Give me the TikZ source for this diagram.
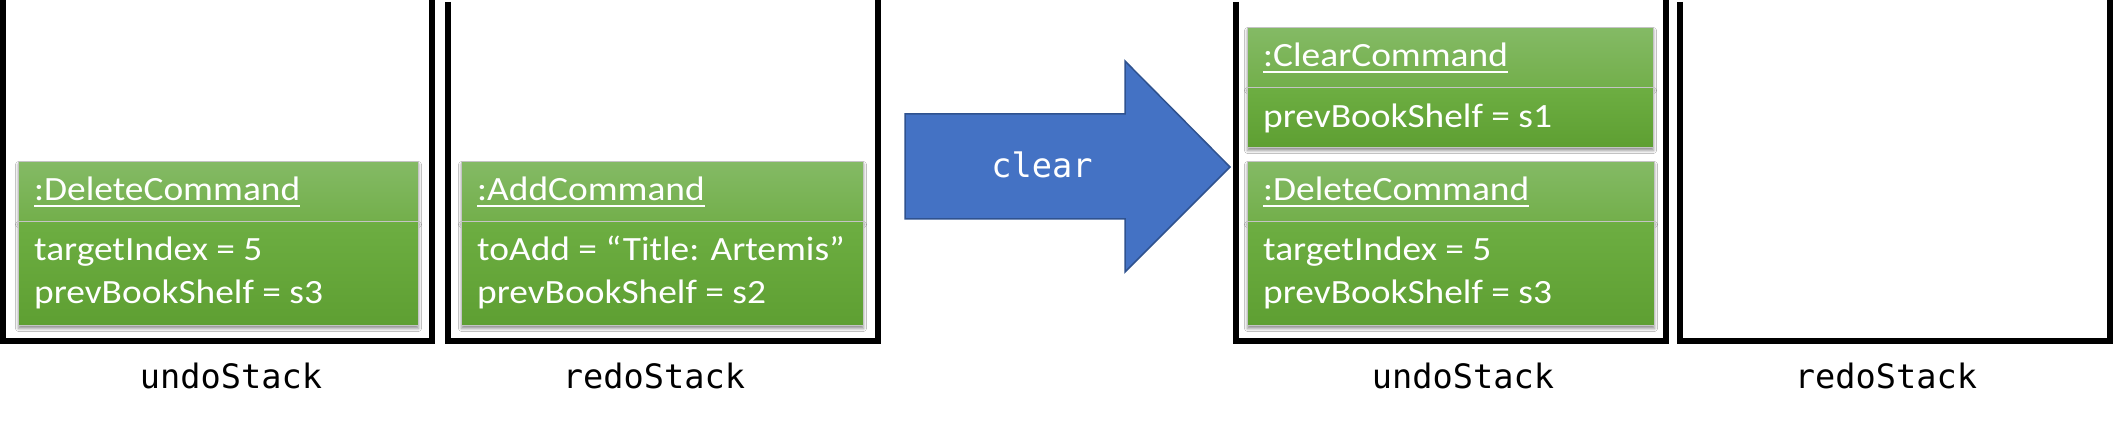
\documentclass[tikz,border=0pt]{standalone}
\usepackage{fontspec}
\usetikzlibrary{shadows.blur}
\newfontfamily\calib[FakeStretch=1.1]{Carlito}
\newfontfamily\monof{DejaVu Sans Mono}
\definecolor{hdrtop}{HTML}{84BA65}
\definecolor{hdrbot}{HTML}{73AF4B}
\definecolor{bdytop}{HTML}{6DAE42}
\definecolor{bdybot}{HTML}{5E9F32}
\definecolor{arrfill}{HTML}{4472C4}
\definecolor{arrline}{HTML}{2F528F}
\definecolor{edge}{HTML}{C4C4C4}
\newcommand\ulc[1]{\setbox0\hbox{#1}\rlap{\rule[-6.3pt]{\wd0}{2pt}}\box0}
\tikzset{
  stk/.style={line width=6pt, draw=black, line join=miter},
  compart/.style={draw=edge, line width=1pt, anchor=north west, inner sep=0pt,
    blur shadow={shadow xshift=0pt, shadow yshift=-3pt, shadow blur radius=3pt, shadow opacity=45}},
  hdr/.style={compart, minimum height=60pt, top color=hdrtop, bottom color=hdrbot},
  bdy/.style={compart, top color=bdytop, bottom color=bdybot},
  txt/.style={text=white, font=\calib\fontsize{34}{42}\selectfont, inner sep=0pt, anchor=base west},
  lbl/.style={text=black, font=\monof\fontsize{33.6}{40}\selectfont, inner sep=0pt, anchor=base}
}
\begin{document}
\begin{tikzpicture}[x=1pt,y=-1pt]
\useasboundingbox[fill=white] (0,0) rectangle (2113,422);
% stacks
\draw[stk] (3,0) -- (3,341) -- (432,341) -- (432,0);
\draw[stk] (448,2) -- (448,341) -- (878,341) -- (878,0);
\draw[stk] (1236,2) -- (1236,341) -- (1666,341) -- (1666,0);
\draw[stk] (1680,2) -- (1680,341) -- (2110,341) -- (2110,0);
% left undo stack
\node[hdr, minimum width=400pt] (d1h) at (18,161) {};
\node[bdy, minimum width=400pt, minimum height=104pt] (d1b) at (18,221) {};
\node[txt] (d1t) at (34,201) {\ulc{:DeleteCommand}};
\node[txt] (d1a) at (34,261) {targetIndex = 5};
\node[txt] (d1c) at (34,303) {prevBookShelf = s3};
% left redo stack
\node[hdr, minimum width=402pt] (a1h) at (461,161) {};
\node[bdy, minimum width=402pt, minimum height=104pt] (a1b) at (461,221) {};
\node[txt] (a1t) at (477,201) {\ulc{:AddCommand}};
\node[txt] (a1a) at (477,261) {toAdd = “Title: Artemis”};
\node[txt] (a1c) at (477,303) {prevBookShelf = s2};
% arrow
\draw[fill=arrfill, draw=arrline, line width=1.5pt, line join=miter]
  (905,114) -- (1125,114) -- (1125,61) -- (1230,167) -- (1125,272) -- (1125,219) -- (905,219) -- cycle;
\node[lbl, text=white] (clr) at (1042,178) {clear};
% right undo stack
\node[hdr, minimum width=406pt] (c2h) at (1247,27) {};
\node[bdy, minimum width=406pt, minimum height=60pt] (c2b) at (1247,87) {};
\node[txt] (c2t) at (1263,67) {\ulc{:ClearCommand}};
\node[txt] (c2a) at (1263,128) {prevBookShelf = s1};
\node[hdr, minimum width=407pt] (d2h) at (1247,161) {};
\node[bdy, minimum width=407pt, minimum height=104pt] (d2b) at (1247,221) {};
\node[txt] (d2t) at (1263,201) {\ulc{:DeleteCommand}};
\node[txt] (d2a) at (1263,261) {targetIndex = 5};
\node[txt] (d2c) at (1263,303) {prevBookShelf = s3};
% labels
\node[lbl] (u1) at (231,388) {undoStack};
\node[lbl] (r1) at (654,388) {redoStack};
\node[lbl] (u2) at (1463,388) {undoStack};
\node[lbl] (r2) at (1886,388) {redoStack};
\end{tikzpicture}
\end{document}
